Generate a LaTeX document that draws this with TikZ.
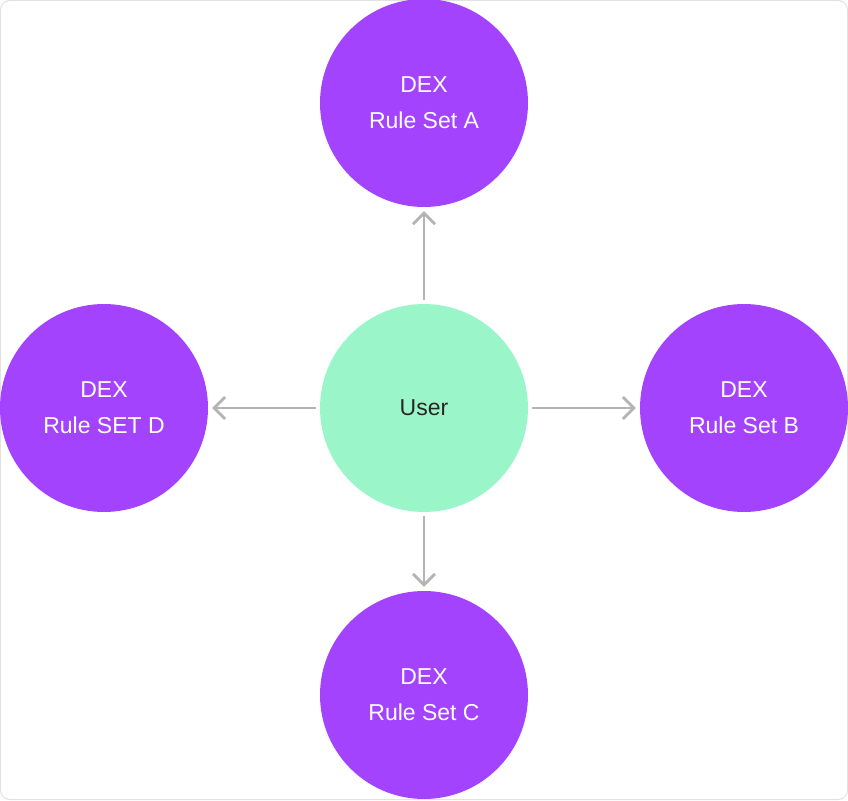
\documentclass[tikz,border=0pt]{standalone}
\usepackage{fontspec}
\setmainfont{Liberation Sans}
\usetikzlibrary{arrows.meta}
\definecolor{dexpurple}{HTML}{A443FE}
\definecolor{usergreen}{HTML}{9AF6C8}
\definecolor{arrowgray}{HTML}{B4B4B4}
\definecolor{framegray}{HTML}{E2E2E2}
\begin{document}
\begin{tikzpicture}[x=1pt, y=-1pt]
    % Define styles
    \tikzset{
        dexnode/.style={circle, fill=dexpurple, minimum size=208pt, inner sep=0pt, align=center, text=white, font=\fontsize{23}{36}\selectfont},
        usernode/.style={circle, fill=usergreen, minimum size=208pt, inner sep=0pt, align=center, text=black!85, font=\fontsize{23}{36}\selectfont},
        flowarrow/.style={-{Straight Barb[length=11pt, width=22pt, line width=2.8pt]}, arrowgray, line width=2.8pt, shorten <=4pt, shorten >=4pt}
    }

    % Frame
    \draw[framegray, line width=1pt, rounded corners=9pt] (0.5,0.5) rectangle (847.5,799.5);
    \useasboundingbox (0,0) rectangle (848,800);

    % Centre
    \node[usernode] (user) at (424,408) {User};

    % Rule sets
    \node[dexnode] (setA) at (424,103) {DEX\\Rule Set A};
    \node[dexnode] (setB) at (744,408) {DEX\\Rule Set B};
    \node[dexnode] (setC) at (424,695) {DEX\\Rule Set C};
    \node[dexnode] (setD) at (104,408) {DEX\\Rule SET D};

    % Connecting arrows
    \foreach \target in {setA,setB,setC,setD} {
        \draw[flowarrow] (user) -- (\target);
    }
\end{tikzpicture}
\end{document}
